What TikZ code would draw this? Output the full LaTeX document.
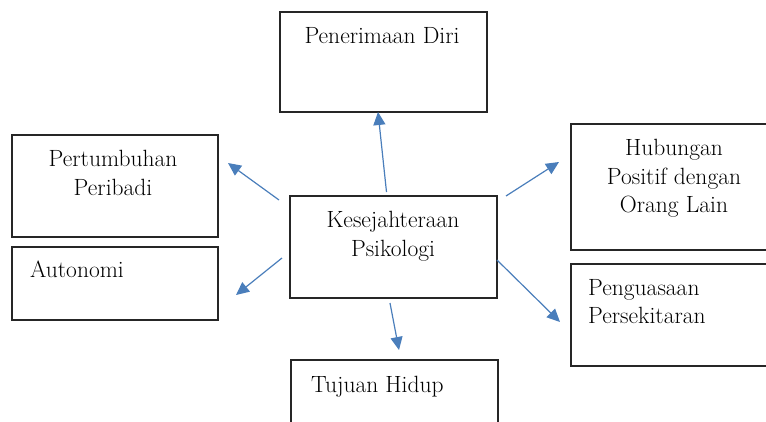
\documentclass[tikz,border=0pt]{standalone}
\usepackage{fontspec}
\usepackage[]{xcolor}
\usepackage{tikz}
\usetikzlibrary{arrows.meta}

\definecolor{arrowblue}{RGB}{74,126,187}

\tikzset{
  box/.style={draw=black!85, line width=1.15pt, rectangle, inner sep=0pt},
  txt/.style={inner sep=0pt, font=\fontsize{23.5}{28.5}\selectfont},
  arr/.style={draw=arrowblue, line width=1.2pt, -{Triangle[length=13pt,width=12pt]}}
}

\begin{document}
\begin{tikzpicture}[x=1pt,y=-1pt]
          \useasboundingbox (0,0) rectangle (766,421);
          \clip (0,0) rectangle (766,421);

          % boxes
          \node[box, minimum width=207pt, minimum height=100pt] (diri) at (383.5,62) {};
          \node[box, minimum width=206pt, minimum height=102pt] (tumbuh) at (115,186) {};
          \node[box, minimum width=206pt, minimum height=73pt] (autonomi) at (115,283.5) {};
          \node[box, minimum width=207pt, minimum height=102pt] (psiko) at (393.5,247) {};
          \node[box, minimum width=207pt, minimum height=100pt] (tujuan) at (394.5,410) {};
          \node[box, minimum width=220pt, minimum height=126pt] (hubungan) at (681,187) {};
          \node[box, minimum width=220pt, minimum height=102pt] (penguasaan) at (681,315) {};

          % texts
          \node[txt, anchor=north, align=center] (tDiri) at (382,27) {Penerimaan Diri};
          \node[txt, anchor=north, align=center] (tTumbuh) at (113,150) {Pertumbuhan\\Peribadi};
          \node[txt, anchor=north west, align=left] (tAutonomi) at (30,261) {Autonomi};
          \node[txt, anchor=north, align=center] (tPsiko) at (393,211) {Kesejahteraan\\Psikologi};
          \node[txt, anchor=north west, align=left] (tTujuan) at (311,376) {Tujuan Hidup};
          \node[txt, anchor=north, align=center] (tHubungan) at (674,139) {Hubungan\\Positif dengan\\Orang Lain};
          \node[txt, anchor=north west, align=left] (tPenguasaan) at (588,279) {Penguasaan\\Persekitaran};

          % arrow ends
          \coordinate (sDiri) at (386.5,192);
          \coordinate (eDiri) at (378,112);
          \coordinate (sTumbuh) at (279,200);
          \coordinate (eTumbuh) at (228,163);
          \coordinate (sAutonomi) at (282,258);
          \coordinate (eAutonomi) at (236,295);
          \coordinate (sHubungan) at (506,196);
          \coordinate (eHubungan) at (559,162);
          \coordinate (sPenguasaan) at (497,260);
          \coordinate (ePenguasaan) at (560,322);
          \coordinate (sTujuan) at (390,303);
          \coordinate (eTujuan) at (399,350);

          \draw[arr] (sDiri) -- (eDiri);
          \draw[arr] (sTumbuh) -- (eTumbuh);
          \draw[arr] (sAutonomi) -- (eAutonomi);
          \draw[arr] (sHubungan) -- (eHubungan);
          \draw[arr] (sPenguasaan) -- (ePenguasaan);
          \draw[arr] (sTujuan) -- (eTujuan);
        \end{tikzpicture}
\end{document}
